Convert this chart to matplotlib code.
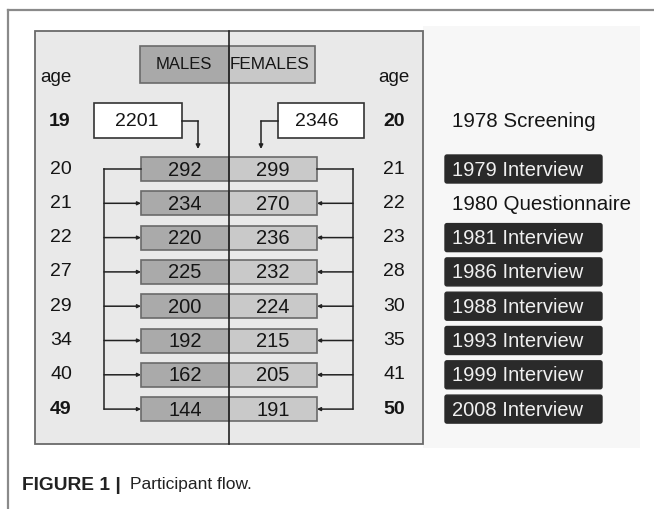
import matplotlib
matplotlib.use("Agg")
import matplotlib.pyplot as plt
from matplotlib.patches import Rectangle, FancyBboxPatch

plt.rcParams['font.family'] = ['Liberation Sans', 'DejaVu Sans']

# data
screen_m, screen_f = 2201, 2346
screen_age_m, screen_age_f = 19, 20
males = [292, 234, 220, 225, 200, 192, 162, 144]
females = [299, 270, 236, 232, 224, 215, 205, 191]
age_m = [20, 21, 22, 27, 29, 34, 40, 49]
age_f = [21, 22, 23, 28, 30, 35, 41, 50]
waves = ["1979 Interview", "1980 Questionnaire", "1981 Interview", "1986 Interview",
         "1988 Interview", "1993 Interview", "1999 Interview", "2008 Interview"]
boxed = [True, False, True, True, True, True, True, True]

fig = plt.figure(figsize=(6.54, 5.09), dpi=100)
ax = fig.add_axes([0, 0, 1, 1])
ax.set_xlim(0, 654)
ax.set_ylim(509, 0)
ax.axis('off')

txt = '#151515'
edge = '#6a6a6a'

# figure frame
ax.plot([8, 654], [10, 10], color='#8a8a8a', lw=1.6)
ax.plot([8, 8], [10, 509], color='#8a8a8a', lw=1.6)

# faint background for labels and main panel
ax.add_patch(Rectangle((423, 26), 217, 422, facecolor='#f7f7f7', edgecolor='none'))
ax.add_patch(Rectangle((35, 31), 388, 413, facecolor='#e9e9e9', edgecolor=edge, lw=1.3))
ax.plot([229, 229], [31, 444], color='#222222', lw=1.2, zorder=5)

# header
ax.add_patch(Rectangle((140, 46), 89, 37, facecolor='#a9a9a9', edgecolor=edge, lw=1.2))
ax.add_patch(Rectangle((229, 46), 86, 37, facecolor='#c8c8c8', edgecolor=edge, lw=1.2))
ax.text(184, 64, "MALES", ha='center', va='center', fontsize=12, color=txt)
ax.text(230, 64, "FEMALES", ha='left', va='center', fontsize=12.3, color=txt)
ax.text(56, 77, "age", ha='center', va='center', fontsize=13.5, color=txt)
ax.text(394, 77, "age", ha='center', va='center', fontsize=13.5, color=txt)

# screening row
sy = 121
ax.add_patch(Rectangle((94, 103), 88, 35, facecolor='white', edgecolor='#333333', lw=1.2))
ax.add_patch(Rectangle((278, 103), 86, 35, facecolor='white', edgecolor='#333333', lw=1.2))
ax.text(137, sy, str(screen_m), ha='center', va='center', fontsize=14, color=txt)
ax.text(317, sy, str(screen_f), ha='center', va='center', fontsize=14, color=txt)
ax.text(60, sy, str(screen_age_m), ha='center', va='center', fontsize=14, fontweight='bold', color=txt)
ax.text(394, sy, str(screen_age_f), ha='center', va='center', fontsize=14, fontweight='bold', color=txt)
ax.text(452, sy, "1978 Screening", ha='left', va='center', fontsize=14.8, color=txt)
ax.plot([182, 198], [sy, sy], color='#222222', lw=1.1)
ax.annotate('', xy=(198, 149), xytext=(198, sy),
            arrowprops=dict(arrowstyle='-|>', color='#222222', lw=1.1, mutation_scale=6,
                            shrinkA=0, shrinkB=0))
ax.plot([278, 261], [sy, sy], color='#222222', lw=1.1)
ax.annotate('', xy=(261, 149), xytext=(261, sy),
            arrowprops=dict(arrowstyle='-|>', color='#222222', lw=1.1, mutation_scale=6,
                            shrinkA=0, shrinkB=0))

# follow-up rows
y0, step = 169, 34.3
ys = [y0 + i * step for i in range(len(males))]
for i, (m, f, am, af, w, b) in enumerate(zip(males, females, age_m, age_f, waves, boxed)):
    y = ys[i]
    ax.add_patch(Rectangle((141, y - 12), 88, 24, facecolor='#aaaaaa', edgecolor=edge, lw=1.2))
    ax.add_patch(Rectangle((229, y - 12), 88, 24, facecolor='#c9c9c9', edgecolor=edge, lw=1.2))
    ax.text(185, y + 1, str(m), ha='center', va='center', fontsize=14.5, color=txt)
    ax.text(273, y + 1, str(f), ha='center', va='center', fontsize=14.5, color=txt)
    wt = 'bold' if i == len(males) - 1 else 'normal'
    ax.text(61, y, str(am), ha='center', va='center', fontsize=14, fontweight=wt, color=txt)
    ax.text(394, y, str(af), ha='center', va='center', fontsize=14, fontweight=wt, color=txt)
    if b:
        ax.add_patch(FancyBboxPatch((445, y - 14), 157, 28, boxstyle='round,pad=0,rounding_size=2',
                                    facecolor='#2a2a2a', edgecolor='#2a2a2a', lw=1))
        ax.text(452, y + 1, w, ha='left', va='center', fontsize=14.5, color='#f0f0f0')
    else:
        ax.text(452, y + 1, w, ha='left', va='center', fontsize=14.8, color=txt)
    if i == 0:
        ax.plot([104, 141], [y, y], color='#222222', lw=1.1)
        ax.plot([317, 353], [y, y], color='#222222', lw=1.1)
    else:
        for xa, xb in ((104, 141), (353, 317)):
            ax.annotate('', xy=(xb, y), xytext=(xa, y),
                        arrowprops=dict(arrowstyle='-|>', color='#222222', lw=1.1, mutation_scale=5,
                                        shrinkA=0, shrinkB=0))
ax.plot([104, 104], [ys[0], ys[-1]], color='#222222', lw=1.1)
ax.plot([353, 353], [ys[0], ys[-1]], color='#222222', lw=1.1)

# caption
ax.text(22, 485, "FIGURE 1 |", ha='left', va='center', fontsize=13.8, fontweight='bold', color='#222222')
ax.text(130, 485, "Participant flow.", ha='left', va='center', fontsize=12.5, color='#222222')

fig.savefig("out.png", dpi=100)
